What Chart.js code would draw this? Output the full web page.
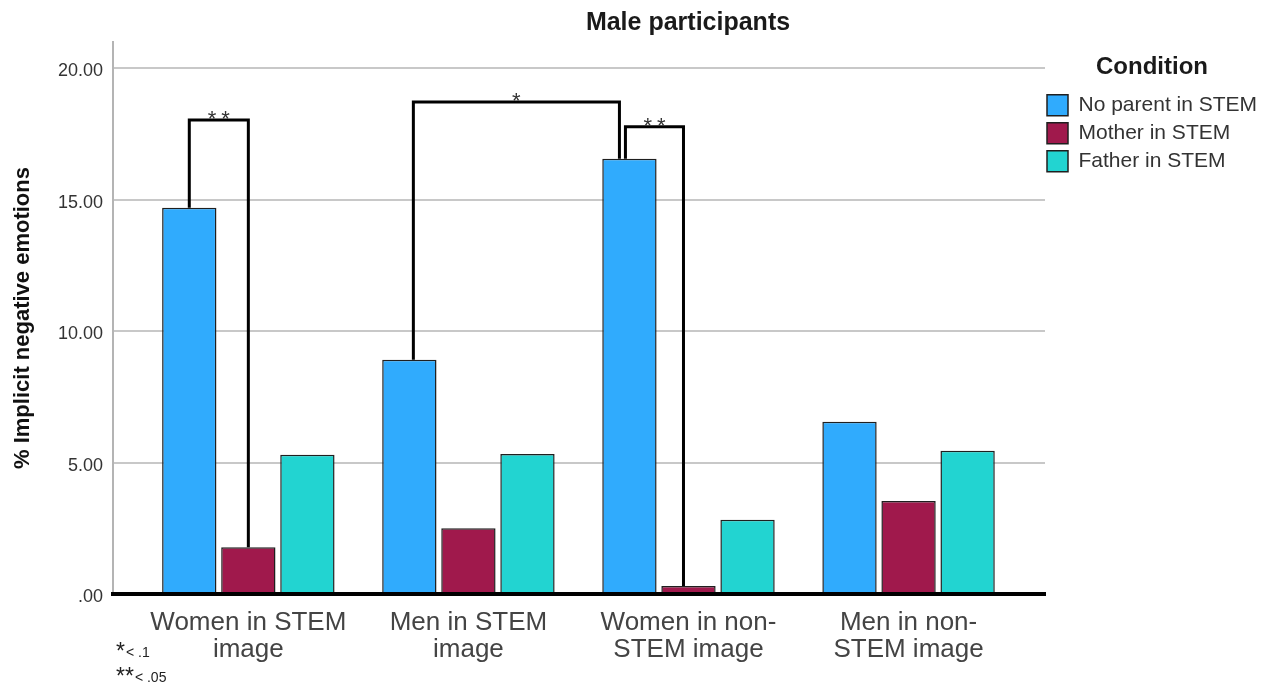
<!DOCTYPE html>
<html>
<head>
<meta charset="utf-8">
<script src="https://cdn.jsdelivr.net/npm/chart.js@4.4.1/dist/chart.umd.min.js"></script>
<style>
  html, body { margin: 0; padding: 0; background: #ffffff; }
  #wrap { width: 1269px; height: 684px; }
</style>
</head>
<body>
<div id="wrap"><canvas id="chart" width="1269" height="684"></canvas></div>
<script>
// Categories (image shown) and the three parent-background series
const categories = [
  ['Women in STEM', 'image'],
  ['Men in STEM', 'image'],
  ['Women in non-', 'STEM image'],
  ['Men in non-', 'STEM image']
];
const seriesNames = ['No parent in STEM', 'Mother in STEM', 'Father in STEM'];
const noParent   = [14.69, 8.91, 16.56, 6.55];
const motherStem = [1.78, 2.50, 0.30, 3.54];
const fatherStem = [5.30, 5.33, 2.82, 5.45];
const yTicks = [0, 5, 10, 15, 20];

// Significance brackets: [category, series] at each end, bracket height in % units
const brackets = [
  { from: [0, 0], to: [0, 1], top: 18.03, label: '**' },
  { from: [1, 0], to: [2, 0], top: 18.72, label: '*' },
  { from: [2, 0], to: [2, 1], top: 17.78, label: '**' }
];
// small horizontal nudges (px) of bracket legs away from bar centres
const bracketNudge = [[0, 0], [4, -10], [-4, -5]];
const footnotes = [['*', '< .1'], ['**', '< .05']];

const FONT = "'Liberation Sans', Arial, Helvetica, sans-serif";
const colors = ['#30abfd', '#a0194c', '#22d4d1'];
const seriesValues = [noParent, motherStem, fatherStem];

const datasets = seriesValues.map((vals, s) => ({
  label: seriesNames[s],
  data: vals.map((v, i) => ({ x: i + 1, y: v })),
  backgroundColor: colors[s],
  borderColor: '#1f1f1f',
  borderWidth: 1.5,
  barPercentage: 0.92,
  categoryPercentage: 0.805
}));

const annotate = {
  id: 'annotate',
  afterLayout(chart) {
    // pull the legend block slightly toward the plot
    if (chart.legend) {
      chart.legend.left -= 5;
      chart.legend.right -= 5;
    }
  },
  afterDatasetsDraw(chart) {
    const ctx = chart.ctx;
    const y = chart.scales.y;
    ctx.save();
    brackets.forEach((b, k) => {
      const a = chart.getDatasetMeta(b.from[1]).data[b.from[0]];
      const c = chart.getDatasetMeta(b.to[1]).data[b.to[0]];
      const x1 = a.x + bracketNudge[k][0];
      const x2 = c.x + bracketNudge[k][1];
      const yt = y.getPixelForValue(b.top);
      ctx.strokeStyle = '#000000';
      ctx.lineWidth = 3;
      ctx.lineJoin = 'miter';
      ctx.beginPath();
      ctx.moveTo(x1, a.y);
      ctx.lineTo(x1, yt);
      ctx.lineTo(x2, yt);
      ctx.lineTo(x2, c.y);
      ctx.stroke();
      ctx.fillStyle = '#333333';
      ctx.font = '22px ' + FONT;
      ctx.letterSpacing = '5px';
      ctx.textAlign = 'center';
      ctx.textBaseline = 'alphabetic';
      ctx.fillText(b.label, (x1 + x2) / 2 + 2.5, yt + 6);
      ctx.letterSpacing = '0px';
    });
    ctx.restore();
  },
  afterDraw(chart) {
    const ctx = chart.ctx;
    ctx.save();
    // chart title
    ctx.fillStyle = '#1a1a1a';
    ctx.font = 'bold 25px ' + FONT;
    ctx.textAlign = 'center';
    ctx.textBaseline = 'alphabetic';
    ctx.fillText('Male participants', 688, 30);
    // significance key
    ctx.textAlign = 'left';
    footnotes.forEach((f, i) => {
      const base = 657 + i * 25;
      ctx.font = '23px ' + FONT;
      ctx.fillStyle = '#222222';
      ctx.fillText(f[0], 116, base + 2);
      const w = ctx.measureText(f[0]).width;
      ctx.font = '14px ' + FONT;
      ctx.fillText(f[1], 116 + w + 1, base);
    });
    ctx.restore();
  }
};

new Chart(document.getElementById('chart'), {
  type: 'bar',
  data: { datasets },
  plugins: [annotate],
  options: {
    responsive: false,
    animation: false,
    devicePixelRatio: 1,
    layout: { padding: { top: 42, left: 0, right: 0, bottom: 0 } },
    scales: {
      x: {
        type: 'linear',
        offset: false,
        bounds: 'data',
        min: 0.385,
        max: 4.62,
        afterBuildTicks: (s) => { s.ticks = categories.map((_, i) => ({ value: i + 1 })); },
        afterFit: (s) => { s.height = 90; },
        ticks: {
          callback: (v) => categories[Math.round(v) - 1],
          font: { family: FONT, size: 26, lineHeight: 1.04 },
          color: '#444444',
          padding: 15,
          maxRotation: 0,
          autoSkip: false
        },
        grid: { display: false, drawTicks: false, offset: false },
        border: { display: true, color: '#000000', width: 4, z: 1 }
      },
      y: {
        min: 0,
        max: 21,
        afterBuildTicks: (s) => { s.ticks = yTicks.map(v => ({ value: v })); },
        afterFit: (s) => { s.width = 113; },
        ticks: {
          stepSize: 5,
          callback: (v) => (v === 0 ? '.00' : v.toFixed(2)),
          font: { family: FONT, size: 18 },
          color: '#333333',
          padding: 10,
          labelOffset: 3
        },
        grid: {
          drawTicks: false,
          lineWidth: 2,
          color: (c) => (c.tick && c.tick.value === 0 ? 'rgba(0,0,0,0)' : '#c8c8c8')
        },
        border: { display: true, color: '#b4b4b4', width: 2 },
        title: {
          display: true,
          text: '% Implicit negative emotions',
          font: { family: FONT, size: 22, weight: 'bold' },
          color: '#111111',
          padding: { top: 10, bottom: 0 }
        }
      }
    },
    plugins: {
      title: { display: false },
      tooltip: { enabled: false },
      legend: {
        position: 'right',
        align: 'start',
        maxWidth: 224,
        title: {
          display: true,
          text: 'Condition',
          color: '#1a1a1a',
          font: { family: FONT, size: 24, weight: 'bold' },
          padding: { top: 13, bottom: 4 }
        },
        labels: {
          boxWidth: 21,
          boxHeight: 21,
          padding: 7,
          color: '#333333',
          font: { family: FONT, size: 21 }
        }
      }
    }
  }
});
</script>
</body>
</html>
